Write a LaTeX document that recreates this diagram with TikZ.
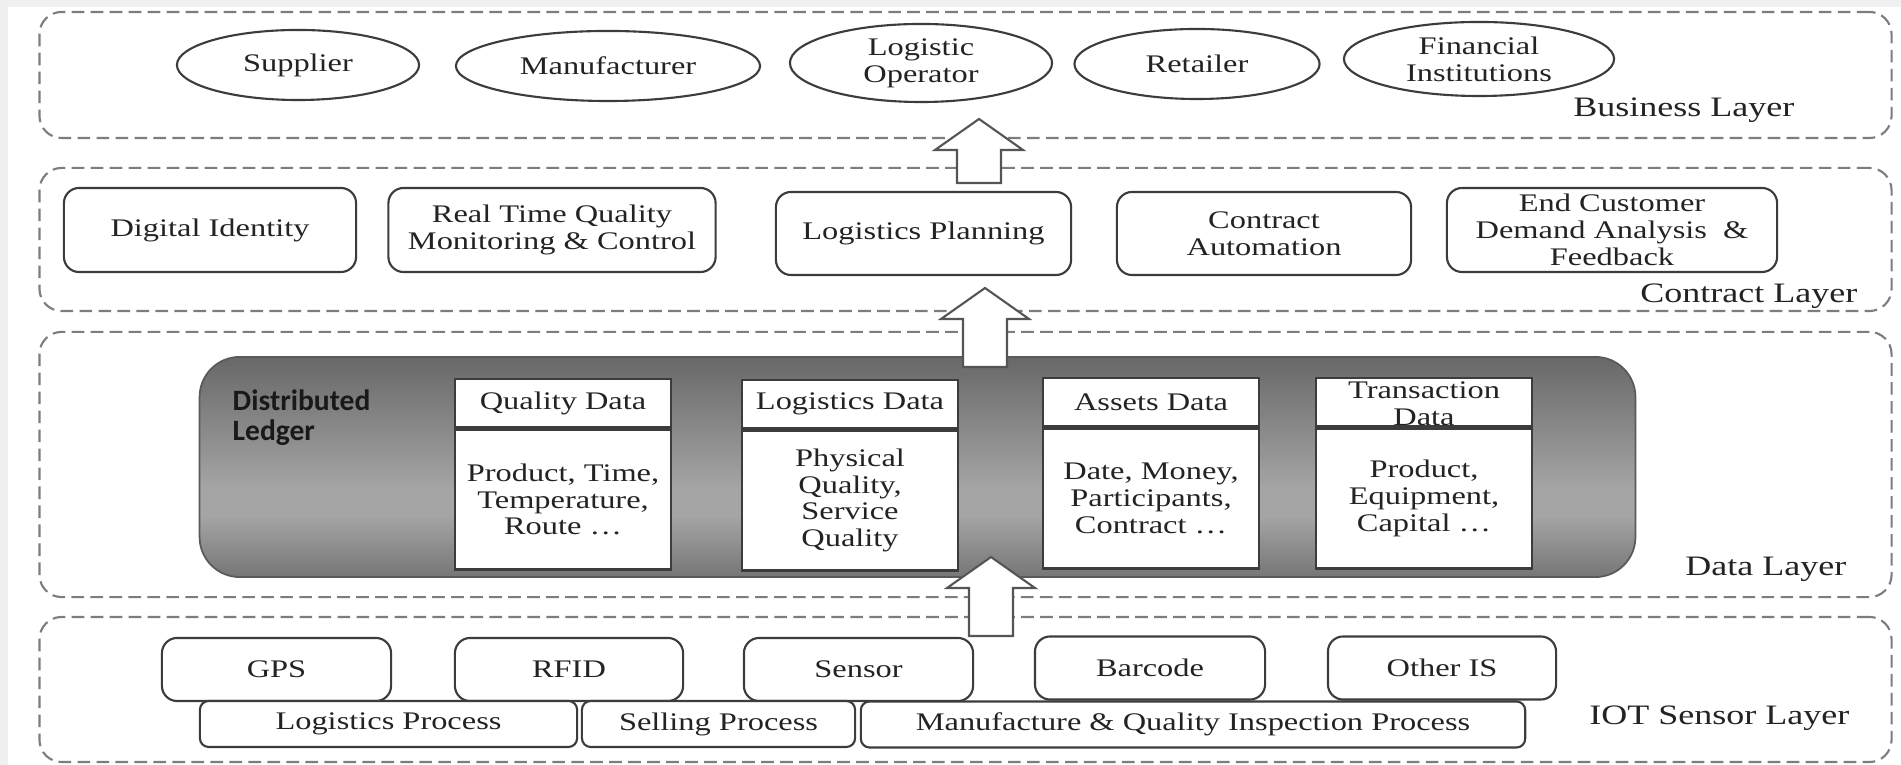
\documentclass[tikz,border=0pt]{standalone}
\usepackage{fontspec}
\setmainfont[FakeStretch=1.28]{Liberation Serif}
\newfontfamily\ledgerfont{Carlito}
\usetikzlibrary{shapes.geometric,positioning}

\definecolor{framegray}{RGB}{240,240,240}
\definecolor{layergray}{RGB}{125,125,125}
\definecolor{boxgray}{RGB}{60,60,60}
\definecolor{arrowgray}{RGB}{85,85,85}
\definecolor{inkgray}{RGB}{35,35,35}
\definecolor{ledgerline}{RGB}{90,90,90}
\definecolor{ledgertop}{RGB}{104,104,104}
\definecolor{ledgermid}{RGB}{165,165,165}
\definecolor{ledgerbot}{RGB}{118,118,118}
\pgfdeclareverticalshading{ledgershade}{100bp}{color(0bp)=(ledgerbot); color(25bp)=(ledgerbot); color(39bp)=(ledgermid); color(45bp)=(ledgermid); color(75bp)=(ledgertop); color(100bp)=(ledgertop)}

\begin{document}
\begin{tikzpicture}
[x=0.01cm, y=-0.01cm,
 every node/.style={font=\fontsize{7.2}{7.6}\selectfont, text=inkgray, align=center, inner sep=0pt},
 layer/.style={draw=layergray, line width=0.6pt, dash pattern=on 3.6pt off 1.8pt, rounded corners=6.3pt, minimum width=18.51cm},
 layerlabel/.style={anchor=east, font=\fontsize{8}{9}\selectfont},
 actor/.style={ellipse, draw=boxgray, line width=0.6pt},
 service/.style={draw=boxgray, line width=0.6pt, rounded corners=4.3pt, minimum height=0.84cm},
 ledger/.style={draw=ledgerline, line width=0.5pt, rounded corners=11.4pt, shading=ledgershade, minimum width=14.35cm, minimum height=2.2cm},
 datahead/.style={draw=boxgray, fill=white, line width=0.7pt, minimum width=2.16cm, minimum height=0.48cm},
 databody/.style={draw=boxgray, fill=white, line width=0.7pt, minimum width=2.16cm, minimum height=1.40cm},
 device/.style={draw=boxgray, fill=white, line width=0.6pt, rounded corners=4.3pt, minimum height=0.63cm},
 process/.style={draw=boxgray, fill=white, line width=0.6pt, rounded corners=2.5pt, minimum height=0.46cm},
 uparrow/.style={draw=arrowgray, fill=white, line width=0.6pt}]

  \fill[framegray] (0,0) rectangle (1901,765);
  \fill[white] (8,7) rectangle (1901,765);
  \useasboundingbox (0,0) rectangle (1901,765);

  % layers
  \node[layer, minimum height=1.26cm] (business) at (965.5,75) {};
  \node[layer, minimum height=1.43cm] (contract) at (965.5,239.5) {};
  \node[layer, minimum height=2.65cm] (datalayer) at (965.5,464.5) {};
  \node[layer, minimum height=1.45cm] (iot) at (965.5,689.5) {};

  \node[layerlabel] (businesslabel) at (1795,110) {Business Layer};
  \node[layerlabel] (contractlabel) at (1858,296) {Contract Layer};
  \node[layerlabel] (datalabel) at (1847,569) {Data Layer};
  \node[layerlabel] (iotlabel) at (1850,718) {IOT Sensor Layer};

  % business layer
  \node[actor, minimum width=2.42cm, minimum height=0.70cm] (supplier) at (298,65) {Supplier};
  \node[actor, minimum width=3.04cm, minimum height=0.70cm] (manufacturer) at (608,66) {Manufacturer};
  \node[actor, minimum width=2.62cm, minimum height=0.78cm] (operator) at (921,63) {Logistic\\Operator};
  \node[actor, minimum width=2.45cm, minimum height=0.70cm] (retailer) at (1197,64) {Retailer};
  \node[actor, minimum width=2.7cm, minimum height=0.74cm] (financial) at (1479,59) {Financial\\Institutions};

  % contract layer
  \node[service, minimum width=2.92cm] (identity) at (210,230) {Digital Identity};
  \node[service, minimum width=3.27cm] (monitoring) at (552,230) {Real Time Quality\\Monitoring \& Control};
  \node[service, minimum width=2.95cm, minimum height=0.83cm] (planning) at (923.5,233.5) {Logistics Planning};
  \node[service, minimum width=2.94cm, minimum height=0.83cm] (automation) at (1264,233.5) {Contract\\Automation};
  \node[service, minimum width=3.3cm] (feedback) at (1612,230) {End Customer\\Demand Analysis \ \&\\Feedback};

  % data layer
  \node[ledger] (ledger) at (917.5,467) {};
  \node[anchor=west, align=left, text=black!90, font=\ledgerfont\bfseries\fontsize{8.4}{8.5}\selectfont] (ledgername) at (232,418) {Distributed\\Ledger};

  \node[datahead] (qualityhead) at (563,403) {Quality Data};
  \node[databody, below=0pt of qualityhead] (qualitybody) {Product, Time,\\Temperature,\\Route …};
  \node[datahead] (logisticshead) at (850,404) {Logistics Data};
  \node[databody, below=0pt of logisticshead] (logisticsbody) {Physical\\Quality,\\Service\\Quality};
  \node[datahead] (assetshead) at (1151,402) {Assets Data};
  \node[databody, below=0pt of assetshead] (assetsbody) {Date, Money,\\Participants,\\Contract …};
  \node[datahead] (transactionhead) at (1424,402) {};
  \node (transactiontitle) at ([yshift=-0.015cm]transactionhead.center) {Transaction\\Data};
  \node[databody, below=0pt of transactionhead] (transactionbody) {Product,\\Equipment,\\Capital …};

  % iot sensor layer
  \node[device, minimum width=2.29cm] (gps) at (276.5,669.5) {GPS};
  \node[device, minimum width=2.28cm] (rfid) at (569,669.5) {RFID};
  \node[device, minimum width=2.29cm] (sensor) at (858.5,669.5) {Sensor};
  \node[device, minimum width=2.3cm] (barcode) at (1150,668) {Barcode};
  \node[device, minimum width=2.28cm] (otheris) at (1442,668) {Other IS};

  \node[process, minimum width=3.77cm] (logproc) at (388.5,724) {Logistics Process};
  \node[process, minimum width=2.73cm] (sellproc) at (718.5,724) {Selling Process};
  \node[process, minimum width=6.64cm] (mfgproc) at (1193,724.5) {Manufacture \& Quality Inspection Process};

  % arrows between layers
  \foreach \tx/\ty/\len in {979/119/33, 985/288/48, 991/557/48}
  {
    \draw[uparrow] (\tx,\ty) -- ++(44,31) -- ++(-22,0) -- ++(0,\len) -- ++(-44,0) -- ++(0,-\len) -- ++(-22,0) -- cycle;
  }
\end{tikzpicture}
\end{document}
